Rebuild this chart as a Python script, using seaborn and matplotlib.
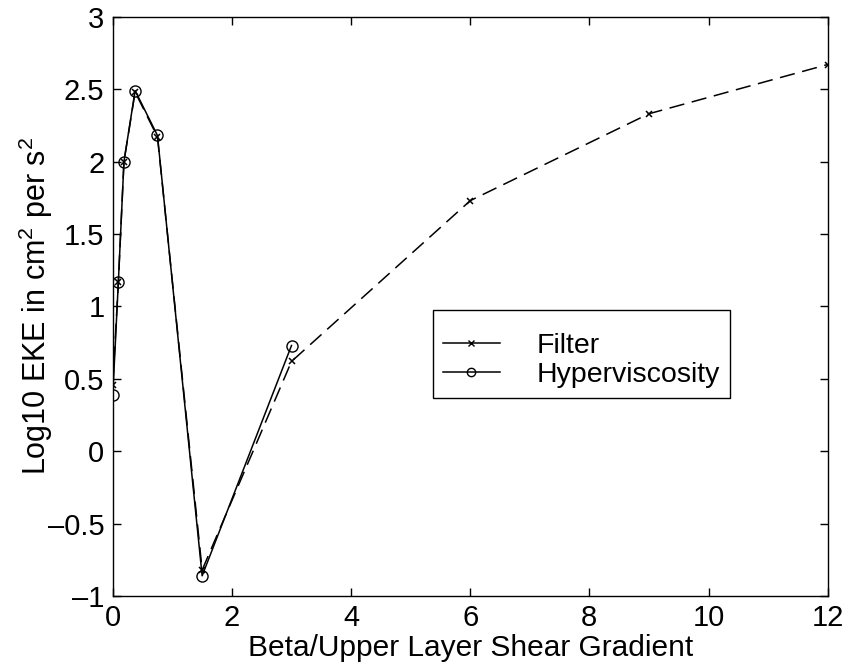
import matplotlib
matplotlib.use("Agg")
import matplotlib.pyplot as plt
import seaborn as sns
import pandas as pd
from matplotlib.lines import Line2D

# Data
x_filter = [0, 0.09375, 0.1875, 0.375, 0.75, 1.5, 3, 6, 9, 12]
y_filter = [0.46, 1.17, 2.0, 2.48, 2.17, -0.82, 0.62, 1.73, 2.33, 2.67]
x_hyper = [0, 0.09375, 0.1875, 0.375, 0.75, 1.5, 3]
y_hyper = [0.39, 1.17, 2.0, 2.49, 2.18, -0.86, 0.73]
series_names = ["Filter", "Hyperviscosity"]
x_ticks = [0, 2, 4, 6, 8, 10, 12]
x_ticklabels = ["0", "2", "4", "6", "8", "10", "12"]
y_ticks = [-1, -0.5, 0, 0.5, 1, 1.5, 2, 2.5, 3]
y_ticklabels = ["\u20131", "\u20130.5", "0", "0.5", "1", "1.5", "2", "2.5", "3"]

plt.rcParams["font.family"] = ["Liberation Sans", "DejaVu Sans"]
plt.rcParams["mathtext.fontset"] = "custom"
plt.rcParams["mathtext.rm"] = "Liberation Sans"
plt.rcParams["mathtext.it"] = "Liberation Sans"

fig = plt.figure(figsize=(8.48, 6.69), dpi=100)
ax = fig.add_axes([0.133, 0.109, 0.843, 0.866])

df_f = pd.DataFrame({"x": x_filter, "y": y_filter})
df_h = pd.DataFrame({"x": x_hyper, "y": y_hyper})

sns.lineplot(data=df_f, x="x", y="y", ax=ax, sort=False, color="black",
             linewidth=1.1, linestyle=(0, (10, 5)), marker="x", markersize=5,
             markeredgewidth=1.1, markeredgecolor="black")
sns.lineplot(data=df_h, x="x", y="y", ax=ax, sort=False, color="black",
             linewidth=1.1, marker="o", markersize=8, markerfacecolor="none",
             markeredgewidth=1.0, markeredgecolor="black")

ax.set_xlim(0, 12)
ax.set_ylim(-1, 3)
ax.set_xticks(x_ticks)
ax.set_xticklabels(x_ticklabels)
ax.set_yticks(y_ticks)
ax.set_yticklabels(y_ticklabels)
ax.tick_params(direction="in", length=6, width=1, labelsize=21, pad=6,
               top=True, right=True)
for s in ax.spines.values():
    s.set_linewidth(1.0)
    s.set_color("black")

ax.set_xlabel("Beta/Upper Layer Shear Gradient", fontsize=21.5, labelpad=1)
ax.set_ylabel("Log10 EKE in cm$^{\\mathregular{2}}$ per s$^{\\mathregular{2}}$",
              fontsize=22, labelpad=-5)

handles = [
    Line2D([], [], color="black", linewidth=1.1, marker="x", markersize=5),
    Line2D([], [], color="black", linewidth=1.1, marker="o", markersize=6,
           markerfacecolor="none"),
]
leg = ax.legend(handles, series_names, loc="upper left",
                bbox_to_anchor=(0.448, 0.494), fontsize=20.5, frameon=True,
                fancybox=False, shadow=False, framealpha=1, edgecolor="black",
                labelspacing=0.1, handlelength=2.0, handletextpad=1.3,
                borderpad=0.35, borderaxespad=0, title=" ",
                title_fontsize=8)
leg.get_frame().set_linewidth(1.0)

fig.savefig("out.png", dpi=100)
